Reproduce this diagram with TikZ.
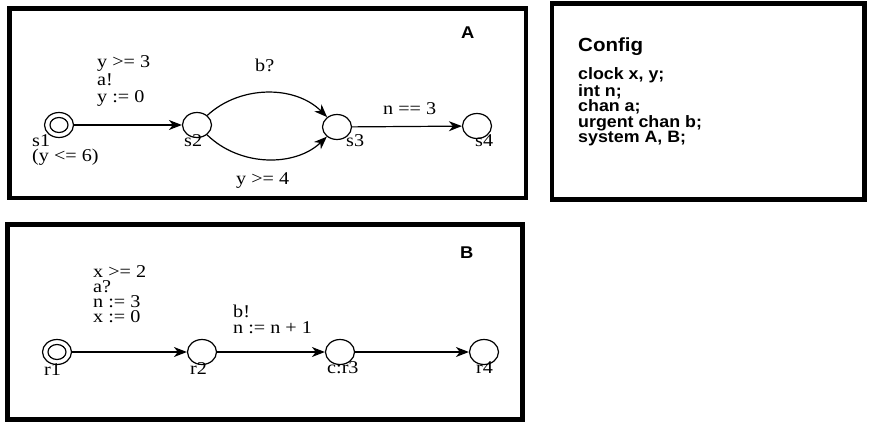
\documentclass[tikz,border=0pt]{standalone}
\usepackage{fontspec}
\setmainfont{Liberation Serif}
\newfontfamily\lblfont[FakeStretch=1.12]{Liberation Serif}
\newfontfamily\cfgfont[FakeStretch=1.08]{Liberation Sans}
\usetikzlibrary{arrows.meta,shapes.geometric}
\begin{document}
\begin{tikzpicture}[x=1pt,y=-1pt,
  frame/.style={draw, line width=4.5pt},
  loc/.style={draw, ellipse, line width=1.2pt, minimum width=29pt, minimum height=25pt, inner sep=0pt},
  inloc/.style={draw, ellipse, line width=1.2pt, minimum width=18pt, minimum height=15pt, inner sep=0pt},
  trans/.style={line width=1.2pt, -{Stealth[length=13pt,width=10pt,inset=4pt]}},
  lbl/.style={anchor=base west, inner sep=0pt, align=left,
    font=\lblfont\fontsize{18}{17.5}\selectfont},
  title/.style={anchor=base west, inner sep=0pt, font=\cfgfont\bfseries\fontsize{17}{17}\selectfont}]
\useasboundingbox (0,0) rectangle (869,422);

% process frames
\draw[frame] (9.5,8.5) rectangle (526,198);
\draw[frame] (552,3.5) rectangle (864.5,199.5);
\draw[frame] (7.5,224.5) rectangle (522.5,419.5);

% ---- template A (multi-line texts are placed by their last baseline) ----
\node[title] (ta) at (461,39) {A};
\node[loc] (s1) at (59,125) {};
\node[inloc] (s1i) at (59,125) {};
\node[loc] (s2) at (197,125) {};
\node[loc] (s3) at (337,127) {};
\node[loc] (s4) at (477,126) {};

\draw[trans] (s1) -- (s2);
\draw[trans] (s2) .. controls (240,85) and (295,85) .. (s3);
\draw[trans] (s2) .. controls (240,167) and (295,167) .. (s3);
\draw[trans] (s3) -- (s4);

\node[lbl] (g1) at (97,103) {y >= 3\\a!\\y := 0};
\node[lbl] (g2) at (255,72) {b?};
\node[lbl] (g3) at (236,185) {y >= 4};
\node[lbl] (g4) at (383,115) {n == 3};

\node[lbl, font=\lblfont\fontsize{18}{15}\selectfont] (n1) at (32,161) {s1\\(y <= 6)};
\node[lbl] (n2) at (184,147) {s2};
\node[lbl] (n3) at (346,147) {s3};
\node[lbl] (n4) at (475,147) {s4};

% ---- declarations ----
\node[title, font=\cfgfont\bfseries\fontsize{19}{19}\selectfont] (cfg) at (578,52) {Config};
\node[title, align=left, font=\cfgfont\bfseries\fontsize{16.5}{14.2}\selectfont] (decl) at (578,143)
  {clock x, y;\\int n;\\chan a;\\urgent chan b;\\system A, B;};

% ---- template B ----
\node[title] (tb) at (460,258) {B};
\node[loc] (r1) at (57,352) {};
\node[inloc] (r1i) at (57,352) {};
\node[loc] (r2) at (202,352) {};
\node[loc] (r3) at (340,352) {};
\node[loc] (r4) at (484,352) {};

\draw[trans] (r1) -- (r2);
\draw[trans] (r2) -- (r3);
\draw[trans] (r3) -- (r4);

\node[lbl, font=\lblfont\fontsize{18}{15}\selectfont] (h1) at (93,322) {x >= 2\\a?\\n := 3\\x := 0};
\node[lbl, font=\lblfont\fontsize{18}{16}\selectfont] (h2) at (233,333) {b!\\n := n + 1};

\node[lbl] (m1) at (44,375) {r1};
\node[lbl] (m2) at (190,374) {r2};
\node[lbl] (m3) at (327,373) {c:r3};
\node[lbl] (m4) at (476,373) {r4};
\end{tikzpicture}
\end{document}
